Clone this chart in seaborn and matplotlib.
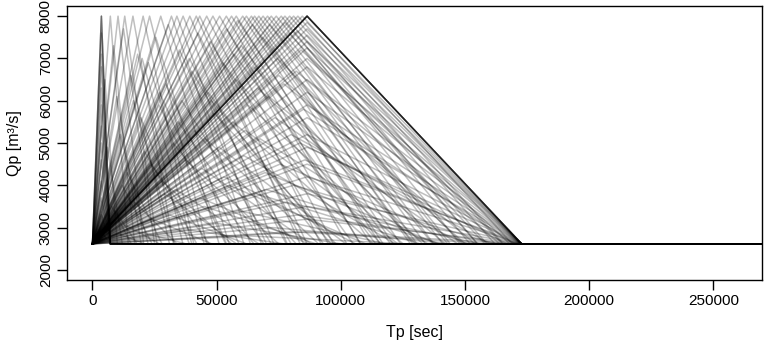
import numpy as np
import pandas as pd
import seaborn as sns
from matplotlib import pyplot as plt

# base flow and end of the simulated window
baseQ = 2615
tEnd = 300000

# peaks that hit the upper bound Qp = 8000
tpTop = [3600, 3600, 3600, 7200, 10300, 13000, 16300, 20400, 23000, 27500,
         31800, 34000, 36500, 39200, 41800, 43200, 46000, 48500, 51200, 53900,
         56000, 57900, 60500, 62000, 64000, 65300, 67000, 68700, 70500, 72000,
         74000, 76000, 77500, 79400, 81000, 82700, 84500, 86400, 86400, 86400,
         86400, 86400, 86400, 86400]
qpTop = [8000] * len(tpTop)

# peaks at the lower bound Tp = 3600
qpShort = [7600, 7100, 6800, 6300, 5900, 5400, 5000, 4600, 4100, 3700, 3300, 2900]
tpShort = [3600] * len(qpShort)

# peaks at the upper bound Tp = 86400
qpLong = [7850, 7700, 7550, 7400, 7250, 7000, 6800, 6500, 6200, 5900,
          5600, 5200, 4900, 4500, 4200, 3800, 3500, 3200, 2900]
tpLong = [86400] * len(qpLong)

# everything in between
tpMid = [8500, 9800, 11200, 12500, 14000, 15500, 17000, 18200, 19500, 21000,
         22500, 24000, 25500, 26800, 28000, 29500, 30500, 32500, 33500, 35000,
         36000, 37500, 38500, 40000, 41000, 42500, 44000, 45000, 46500, 47500,
         49000, 50000, 51000, 52500, 54000, 55000, 56500, 58000, 59000, 60000,
         61000, 62500, 63500, 65000, 66000, 67500, 68500, 69500, 71000, 72500,
         73500, 74500, 75500, 77000, 78000, 79000, 80000, 81000, 82000, 83000,
         84000, 85000, 85500, 6000, 5000, 7800, 10500, 13500, 16500, 20000,
         23500, 27000, 31000, 34500, 39000, 43500, 48000, 53000, 57000, 61500,
         66500, 70000, 75000, 80500, 83500, 64500, 58500, 71500, 77500, 82500,
         45500, 29000, 18800, 12000, 9000]
qpMid = [7300, 6100, 5200, 7700, 4300, 6600, 3600, 7100, 5600, 4800,
         6900, 3200, 7500, 5900, 4100, 6400, 7800, 5000, 3900, 7200,
         6000, 4600, 2950, 6700, 5300, 7600, 4400, 3500, 6200, 7400,
         5700, 3100, 4900, 6900, 7700, 4000, 5500, 6500, 3400, 7300,
         4700, 5900, 2800, 6800, 3800, 5100, 7500, 4300, 6100, 3000,
         5600, 7000, 4500, 6400, 3600, 7600, 5200, 4000, 6700, 3300,
         7200, 5800, 4600, 4900, 6500, 3500, 2850, 3050, 6000, 7000,
         4500, 6200, 3300, 5500, 7000, 3700, 6000, 4200, 7100, 5300,
         6300, 3900, 6600, 2900, 5000, 7800, 7900, 7800, 7850, 7650,
         5100, 3800, 2900, 4000, 3400]

tp = tpTop + tpShort + tpLong + tpMid
qp = qpTop + qpShort + qpLong + qpMid

# triangular hydrographs: rise to the peak, fall back over the same time, then base flow
rows = []
for i, (t, q) in enumerate(zip(tp, qp)):
    for x, y in [(0, baseQ), (t, q), (2 * t, baseQ), (tEnd, baseQ)]:
        rows.append({'id': i, 'time': x, 'Q': y})
df = pd.DataFrame(rows)

sns.set_style("ticks")
plt.rcParams['font.family'] = ['Liberation Sans', 'DejaVu Sans']
for key in ['text.color', 'axes.labelcolor', 'xtick.color', 'ytick.color', 'axes.edgecolor']:
    plt.rcParams[key] = 'black'

fig = plt.figure(figsize=(7.65, 3.5), dpi=100)
ax = fig.add_axes([66.7 / 765, 1 - 280 / 350, (762 - 66.7) / 765, (280 - 6) / 350])

sns.lineplot(data=df, x='time', y='Q', units='id', estimator=None, sort=False,
             color='black', alpha=0.25, linewidth=1.1, ax=ax)

ax.set_xlim(-10368, 269568)
ax.set_ylim(1760, 8240)
ax.set_xticks([0, 50000, 100000, 150000, 200000, 250000])
ax.set_xticklabels(['0', '50000', '100000', '150000', '200000', '250000'])
ax.set_yticks([2000, 3000, 4000, 5000, 6000, 7000, 8000])
ax.set_yticklabels(['2000', '3000', '4000', '5000', '6000', '7000', '8000'],
                   rotation=90, va='center')
ax.tick_params(direction='out', length=7, width=1, labelsize=11, color='black',
               labelcolor='black', pad=3)
for s in ax.spines.values():
    s.set_visible(True)
    s.set_linewidth(1)
    s.set_color('black')

ax.set_xlabel('Tp [sec]', fontsize=11.5, labelpad=12)
ax.set_ylabel('Qp [m³/s]', fontsize=11.5, labelpad=12)

fig.savefig('out.png', dpi=100)
